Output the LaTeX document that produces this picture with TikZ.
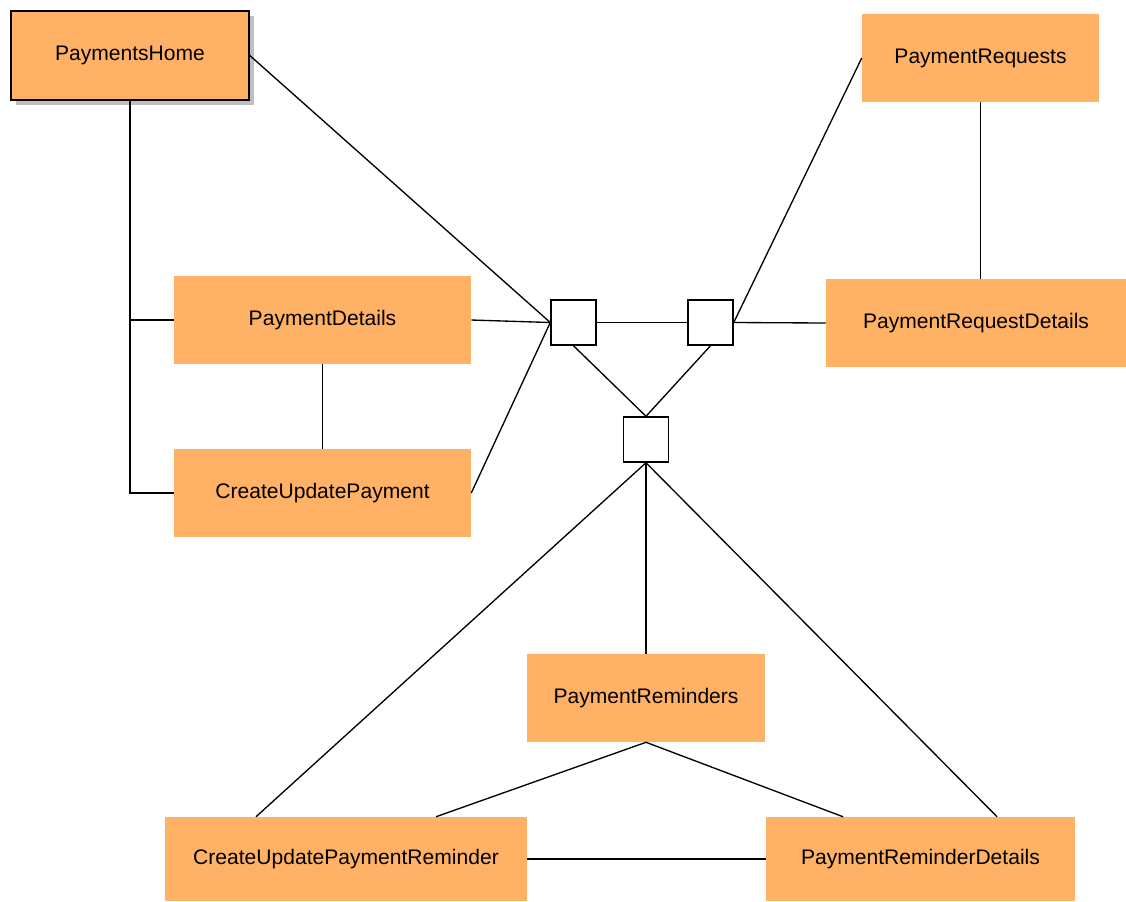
\documentclass[tikz,border=0pt]{standalone}
\usepackage{fontspec}
\setmainfont{Liberation Sans}
\usetikzlibrary{shadows}
\definecolor{boxorange}{RGB}{255,178,102}
\begin{document}
\begin{tikzpicture}[x=0.75pt,y=-0.75pt,
  page/.style={fill=boxorange, draw=none, inner sep=0pt,
    font=\fontsize{15.8}{18}\selectfont, text=black},
  junction/.style={draw=black, line width=1.1pt, fill=white,
    minimum width=33.75pt, minimum height=33.75pt, inner sep=0pt},
  link/.style={draw=black, line width=1pt}]
\useasboundingbox (0,0) rectangle (1126,901);

% pages
\node[page, draw=black, line width=1.2pt,
  drop shadow={shadow xshift=3.5pt, shadow yshift=-3.5pt, fill=black!25, opacity=1},
  minimum width=178.5pt, minimum height=66.75pt] (home) at (130,55.5) {PaymentsHome};
\node[page, minimum width=177.75pt, minimum height=66pt] (req) at (980.5,58) {PaymentRequests};
\node[page, minimum width=222.75pt, minimum height=66pt] (det) at (322.5,320) {PaymentDetails};
\node[page, minimum width=225pt, minimum height=66pt] (reqd) at (976,323) {PaymentRequestDetails};
\node[page, minimum width=222.75pt, minimum height=66pt] (cup) at (322.5,493) {CreateUpdatePayment};
\node[page, minimum width=178.5pt, minimum height=66pt] (rem) at (646,698) {PaymentReminders};
\node[page, minimum width=271.5pt, minimum height=63pt] (cupr) at (346,859) {CreateUpdatePaymentReminder};
\node[page, minimum width=231.75pt, minimum height=63pt] (remd) at (920.5,859) {PaymentReminderDetails};

% junction squares
\node[junction] (j1) at (573.5,322.5) {};
\node[junction] (j2) at (710.5,322.5) {};
\node[junction] (j3) at (646,439.5) {};

% home navigation
\draw[link] (home.south) |- (cup.west);
\draw[link] (home.south |- det.west) -- (det.west);
\draw[link] (det.south) -- (cup.north);

% left junction
\draw[link] (home.east) -- (j1.west);
\draw[link] (det.east) -- (j1.west);
\draw[link] (cup.east) -- (j1.west);
\draw[link] (j1.east) -- (j2.west);

% right junction
\draw[link] (j2.east) -- (req.west);
\draw[link] (j2.east) -- (reqd.west);
\draw[link] (req.south) -- (req.south |- reqd.north);

% lower junction
\draw[link] (j1.south) -- (j3.north);
\draw[link] (j2.south) -- (j3.north);
\draw[link] (j3.south) -- (rem.north);
\draw[link] (j3.south) -- ([xshift=-67.5pt]cupr.north);
\draw[link] (j3.south) -- ([xshift=57.4pt]remd.north);

% reminders
\draw[link] (rem.south) -- ([xshift=67.5pt]cupr.north);
\draw[link] (rem.south) -- ([xshift=-58.1pt]remd.north);
\draw[link] (cupr.east) -- (remd.west);
\end{tikzpicture}
\end{document}
